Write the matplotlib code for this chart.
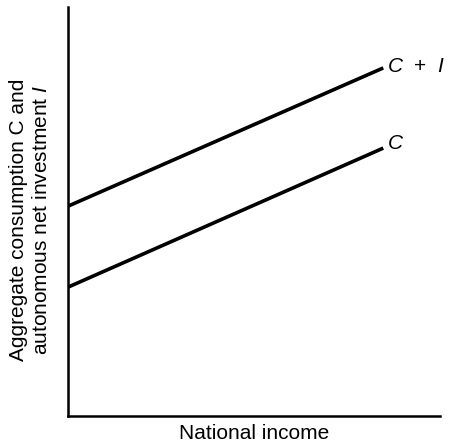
import matplotlib
matplotlib.use("Agg")
import matplotlib.pyplot as plt

plt.rcParams['font.family'] = ['Liberation Sans', 'DejaVu Sans']
plt.rcParams['mathtext.fontset'] = 'custom'
plt.rcParams['mathtext.it'] = 'Liberation Sans:italic'
plt.rcParams['mathtext.rm'] = 'Liberation Sans'

# Data (schematic)
income = [0, 100]
consumption = [31.5, 65.5]
consumption_plus_inv = [51.3, 85.1]
line_labels = ["$C$", "$C$  +  $I$"]

fig = plt.figure(figsize=(4.55, 4.45), dpi=100)
ax = fig.add_axes([68/455, (445-416)/445, (440-68)/455, (416-7)/445])

ax.plot(income, consumption_plus_inv, color='black', lw=2.6, solid_capstyle='butt')
ax.plot(income, consumption, color='black', lw=2.6, solid_capstyle='butt')

ax.text(income[-1] + 1.2, consumption_plus_inv[-1] + 0.3, line_labels[1], fontsize=15,
        va='center', ha='left')
ax.text(income[-1] + 1.2, consumption[-1] + 1.2, line_labels[0], fontsize=15,
        va='center', ha='left')

ax.set_xlim(0, 118)
ax.set_ylim(0, 100)
for s in ['top', 'right']:
    ax.spines[s].set_visible(False)
for s in ['left', 'bottom']:
    ax.spines[s].set_linewidth(1.8)
ax.set_xticks([])
ax.set_yticks([])

ax.set_xlabel("National income", fontsize=15, labelpad=6)
ax.set_ylabel("Aggregate consumption C and\nautonomous net investment $I$", fontsize=15,
              linespacing=1.3)
ax.yaxis.set_label_coords(-0.045, 0.48)

fig.savefig("out.png", dpi=100)
